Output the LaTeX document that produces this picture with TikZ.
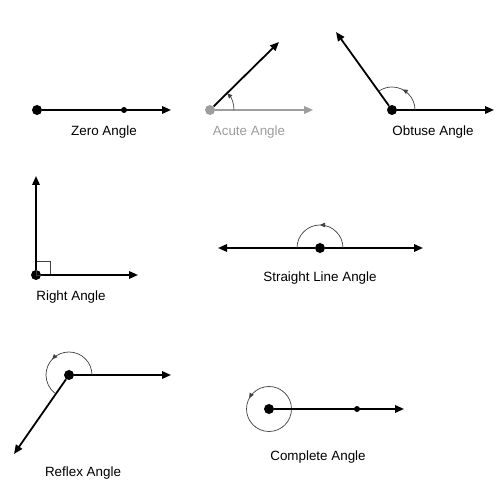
\documentclass[tikz,border=0pt]{standalone}
\usepackage{fontspec}
\setmainfont{Liberation Sans}
\usetikzlibrary{arrows.meta,decorations.markings}
\begin{document}
\begin{tikzpicture}[x=1pt,y=1pt,
 ray/.style={line width=1.8pt,-{Triangle[length=9pt,width=7.5pt]}},
 bigdot/.style={circle,fill=#1,inner sep=0pt,minimum size=10pt},
 bigdot/.default=black,
 smalldot/.style={circle,fill=black,inner sep=0pt,minimum size=6pt},
 lbl/.style={font=\fontsize{13.4}{16}\selectfont,inner sep=0pt},
 arcline/.style={line width=0.7pt,draw=black!75},
 midarrow/.style={postaction={decorate},decoration={markings,mark=at position #1 with {\arrow{Triangle[length=5pt,width=4.5pt]}}}}
]
\useasboundingbox (0,0) rectangle (500,500);
\fill[white] (0,0) rectangle (500,500);
\colorlet{wm}{black!38}

% Zero angle
\node[bigdot] (v1) at (37,390) {};
\coordinate (t1) at (171,390);
\draw[ray] (v1) -- (t1);
\node[smalldot] (s1) at (124,390) {};
\node[lbl] (l1) at (104,368) {Zero Angle};

% Acute angle
\node[bigdot=wm] (v2) at (210,390) {};
\coordinate (h2) at (313,390);
\coordinate (t2) at (279,458);
\draw[ray,wm] (v2) -- (h2);
\draw[ray] (v2) -- (t2);
\draw[arcline,-{Triangle[length=5pt,width=4.5pt]}] ([xshift=24pt]v2.center) arc[start angle=0,end angle=44,radius=24];
\node[lbl,text=wm] (l2) at (249,368) {Acute Angle};

% Obtuse angle
\node[bigdot] (v3) at (392,390) {};
\coordinate (h3) at (494,390);
\coordinate (t3) at (336,468);
\draw[ray] (v3) -- (h3);
\draw[ray] (v3) -- (t3);
\draw[arcline,midarrow=0.5] ([xshift=23pt]v3.center) arc[start angle=0,end angle=125,radius=23];
\node[lbl] (l3) at (433,368) {Obtuse Angle};

% Right angle
\node[bigdot] (v4) at (36,225) {};
\coordinate (u4) at (36,324);
\coordinate (r4) at (138,225);
\draw[line width=0.6pt,black!75] (v4.center) rectangle ++(14,14);
\draw[ray] (v4) -- (u4);
\draw[ray] (v4) -- (r4);
\node[lbl] (l4) at (71,203) {Right Angle};

% Straight line angle
\node[bigdot] (v5) at (320,252) {};
\coordinate (a5) at (218,252);
\coordinate (b5) at (423,252);
\draw[ray] (v5) -- (a5);
\draw[ray] (v5) -- (b5);
\draw[arcline,midarrow=0.5] ([xshift=23pt]v5.center) arc[start angle=0,end angle=180,radius=23];
\node[lbl] (l5) at (320,222) {Straight Line Angle};

% Reflex angle
\node[bigdot] (v6) at (69,125) {};
\coordinate (r6) at (171,125);
\coordinate (t6) at (14,46);
\draw[ray] (v6) -- (r6);
\draw[ray] (v6) -- (t6);
\draw[arcline,midarrow=0.59] ([xshift=23pt]v6.center) arc[start angle=0,end angle=232,radius=23];
\node[lbl] (l6) at (83,27) {Reflex Angle};

% Complete angle
\node[bigdot] (v7) at (269,91) {};
\coordinate (t7) at (404,91);
\draw[arcline,midarrow=0.42] ([xshift=22.5pt]v7.center) arc[start angle=0,end angle=360,radius=22.5];
\draw[ray] (v7) -- (t7);
\node[smalldot] (s7) at (357,91) {};
\node[lbl] (l7) at (318,43) {Complete Angle};
\end{tikzpicture}
\end{document}
